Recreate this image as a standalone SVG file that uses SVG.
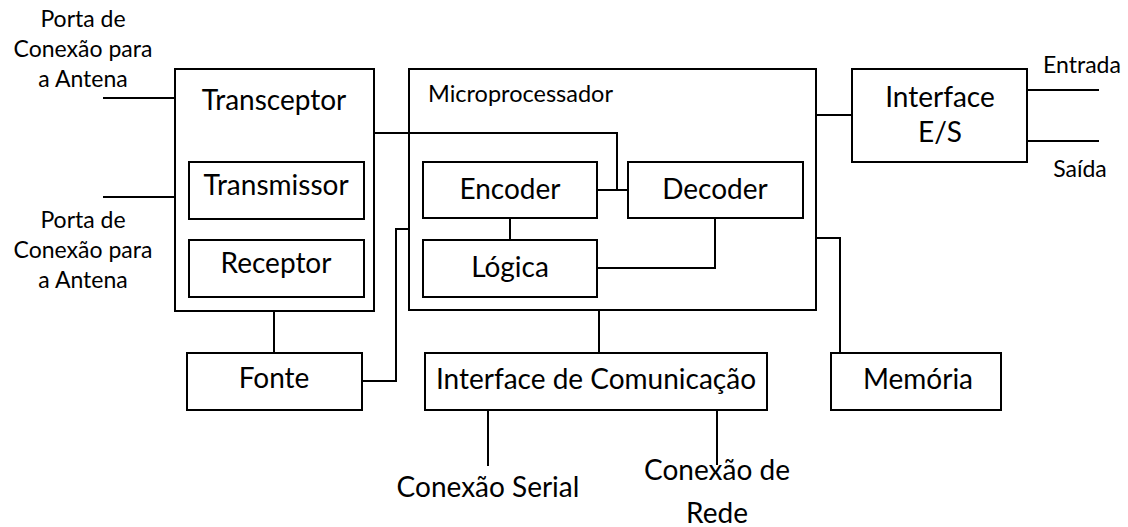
<svg xmlns="http://www.w3.org/2000/svg" width="1128" height="527" viewBox="0 0 1128 527">
<style>
.box{fill:#fff;stroke:#000;stroke-width:2}
.ln{fill:none;stroke:#000;stroke-width:2}
text{font-family:Lato,"Liberation Sans",sans-serif;fill:#000}
.big{font-size:28px;text-anchor:middle}
.sm{font-size:23px;text-anchor:middle}
.mp{font-size:23.5px}
</style>
<rect width="1128" height="527" fill="#fff"/>
<g id="label-antena1">
<text class="sm" x="83" y="27">Porta de</text>
<text class="sm" x="83" y="57">Conexão para</text>
<text class="sm" x="83" y="87">a Antena</text>
</g>
<g id="label-antena2">
<text class="sm" x="83" y="228">Porta de</text>
<text class="sm" x="83" y="258">Conexão para</text>
<text class="sm" x="83" y="288">a Antena</text>
</g>
<g id="transceptor">
<rect class="box" x="175" y="69" width="199" height="242"/>
<text class="big" x="274" y="110">Transceptor</text>
</g>
<g id="transmissor">
<rect class="box" x="189" y="162" width="175" height="57"/>
<text class="big" x="276" y="195">Transmissor</text>
</g>
<g id="receptor">
<rect class="box" x="189" y="240" width="175" height="57"/>
<text class="big" x="276" y="273">Receptor</text>
</g>
<g id="microprocessador">
<rect class="box" x="409" y="69" width="407" height="241"/>
<text class="mp" x="428" y="102">Microprocessador</text>
</g>
<g id="encoder">
<rect class="box" x="423" y="162" width="174" height="56"/>
<text class="big" x="510" y="199">Encoder</text>
</g>
<g id="decoder">
<rect class="box" x="628" y="162" width="175" height="56"/>
<text class="big" x="715" y="199">Decoder</text>
</g>
<g id="logica">
<rect class="box" x="423" y="240" width="174" height="57"/>
<text class="big" x="510" y="277">Lógica</text>
</g>
<g id="interface-es">
<rect class="box" x="852" y="69" width="175" height="93"/>
<text class="big" x="940" y="107">Interface</text>
<text class="big" x="940" y="142">E/S</text>
</g>
<g id="label-entrada"><text class="sm" x="1082" y="73">Entrada</text></g>
<g id="label-saida"><text class="sm" x="1080" y="177">Saída</text></g>
<g id="fonte">
<rect class="box" x="187" y="353" width="175" height="57"/>
<text class="big" x="274" y="388">Fonte</text>
</g>
<g id="interface-comunicacao">
<rect class="box" x="425" y="353" width="342" height="57"/>
<text class="big" x="596" y="389">Interface de Comunicação</text>
</g>
<g id="memoria">
<rect class="box" x="831" y="353" width="170" height="57"/>
<text class="big" x="918" y="389">Memória</text>
</g>
<g id="label-serial"><text class="big" x="488" y="497">Conexão Serial</text></g>
<g id="label-rede">
<text class="big" x="717" y="480">Conexão de</text>
<text class="big" x="717" y="523">Rede</text>
</g>
<g id="connectors">
<path class="ln" d="M103 98H175"/>
<path class="ln" d="M103 197H175"/>
<path class="ln" d="M374 133H617V190"/>
<path class="ln" d="M597 190H628"/>
<path class="ln" d="M510 218V240"/>
<path class="ln" d="M715 218V268H597"/>
<path class="ln" d="M362 381H396V229H409"/>
<path class="ln" d="M274 311V353"/>
<path class="ln" d="M599 310V353"/>
<path class="ln" d="M488 410V466"/>
<path class="ln" d="M717 410V465"/>
<path class="ln" d="M816 115H852"/>
<path class="ln" d="M1027 90H1099"/>
<path class="ln" d="M1027 141H1099"/>
<path class="ln" d="M816 238H840V353"/>
</g>
</svg>
